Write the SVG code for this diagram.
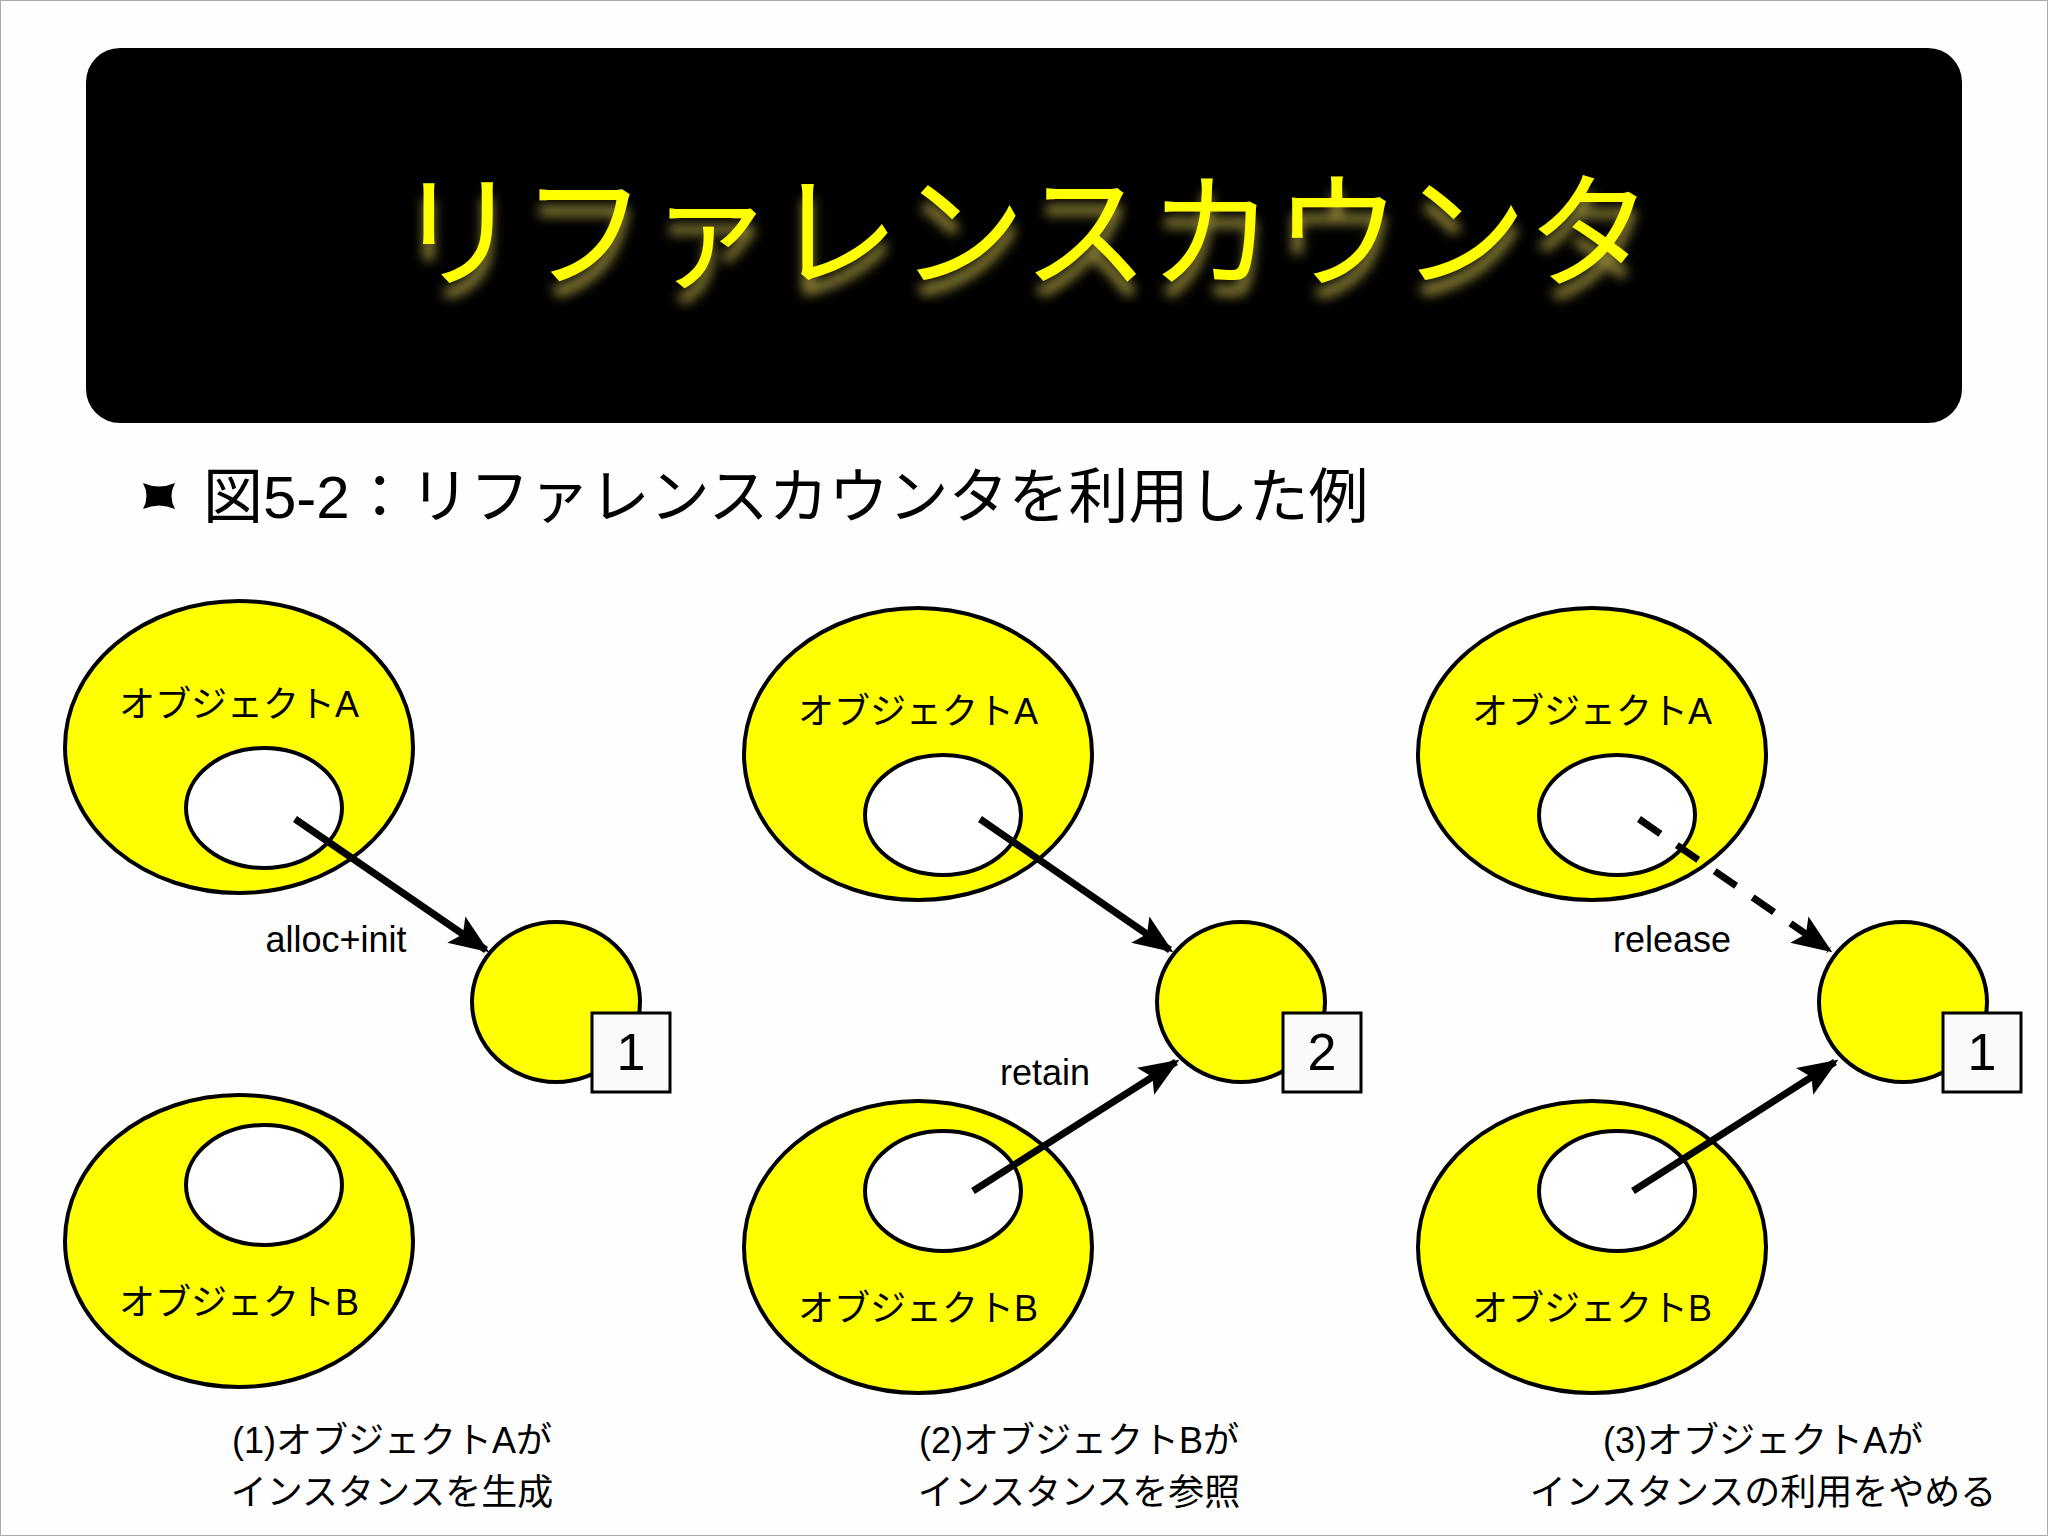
<svg xmlns="http://www.w3.org/2000/svg" width="2048" height="1536" viewBox="0 0 2048 1536">
<style>
.big{fill:#ffff00;stroke:#000;stroke-width:4}
.in{fill:#fff;stroke:#000;stroke-width:4}
.t{font-family:"Liberation Sans","Noto Sans CJK JP",sans-serif;fill:#000}
.lbl{font-size:36px;text-anchor:middle}
.cnt{fill:#fafafa;stroke:#000;stroke-width:3}
.ar{stroke:#000;stroke-width:7;fill:none;marker-end:url(#ah)}
</style>
<defs>
<marker id="ah" markerUnits="userSpaceOnUse" markerWidth="40" markerHeight="40" viewBox="0 0 40 40" refX="36" refY="20" orient="auto">
<path d="M0,4 L40,20 L0,36 L8,20 Z" fill="#000"/>
</marker>
<filter id="glow" x="-10%" y="-30%" width="120%" height="170%">
<feGaussianBlur in="SourceAlpha" stdDeviation="6"/>
<feOffset dy="16" result="b"/>
<feFlood flood-color="#a89c40" flood-opacity="0.85"/>
<feComposite in2="b" operator="in" result="s"/>
<feMerge><feMergeNode in="s"/><feMergeNode in="SourceGraphic"/></feMerge>
</filter>
</defs>
<rect x="0" y="0" width="2048" height="1536" fill="#fefefe" stroke="#aaa" stroke-width="2"/>
<g id="title">
<rect x="86" y="48" width="1876" height="375" rx="34" fill="#000"/>
<text x="1024" y="278" text-anchor="middle" font-size="126" font-family="'Noto Sans CJK JP',sans-serif" fill="#ffff00" filter="url(#glow)">リファレンスカウンタ</text>
</g>
<g id="subtitle">
<path d="M143,483 Q159,490 175,483 Q168,496 175,509 Q159,502 143,509 Q150,496 143,483 Z" fill="#000"/>
<text class="t" x="203" y="518" font-size="60" font-family="'Noto Sans CJK JP',sans-serif">図5-2：リファレンスカウンタを利用した例</text>
</g>
<g id="p1">
<g id="p1A"><ellipse class="big" cx="239" cy="747" rx="174" ry="146"/><ellipse class="in" cx="264" cy="808" rx="78" ry="60"/><text class="t lbl" x="239" y="717">オブジェクトA</text></g>
<g id="p1B"><ellipse class="big" cx="239" cy="1241" rx="174" ry="146"/><ellipse class="in" cx="264" cy="1185" rx="78" ry="60"/><text class="t lbl" x="239" y="1315">オブジェクトB</text></g>
<g id="p1I"><ellipse class="big" cx="556" cy="1002" rx="84" ry="80"/><rect class="cnt" x="592" y="1013" width="78" height="79"/><text class="t" x="631" y="1070" font-size="52" text-anchor="middle">1</text></g>
<text class="t" x="336" y="952" font-size="36" text-anchor="middle">alloc+init</text>
<text class="t lbl" x="392" y="1453">(1)オブジェクトAが</text>
<text class="t lbl" x="392" y="1505">インスタンスを生成</text>
</g>
<g id="p2">
<g id="p2A"><ellipse class="big" cx="918" cy="754" rx="174" ry="146"/><ellipse class="in" cx="943" cy="815" rx="78" ry="60"/><text class="t lbl" x="918" y="724">オブジェクトA</text></g>
<g id="p2B"><ellipse class="big" cx="918" cy="1247" rx="174" ry="146"/><ellipse class="in" cx="943" cy="1191" rx="78" ry="60"/><text class="t lbl" x="918" y="1321">オブジェクトB</text></g>
<g id="p2I"><ellipse class="big" cx="1241" cy="1002" rx="84" ry="80"/><rect class="cnt" x="1283" y="1013" width="78" height="79"/><text class="t" x="1322" y="1070" font-size="52" text-anchor="middle">2</text></g>
<text class="t" x="1045" y="1085" font-size="36" text-anchor="middle">retain</text>
<text class="t lbl" x="1079" y="1453">(2)オブジェクトBが</text>
<text class="t lbl" x="1079" y="1505">インスタンスを参照</text>
</g>
<g id="p3">
<g id="p3A"><ellipse class="big" cx="1592" cy="754" rx="174" ry="146"/><ellipse class="in" cx="1617" cy="815" rx="78" ry="60"/><text class="t lbl" x="1592" y="724">オブジェクトA</text></g>
<g id="p3B"><ellipse class="big" cx="1592" cy="1247" rx="174" ry="146"/><ellipse class="in" cx="1617" cy="1191" rx="78" ry="60"/><text class="t lbl" x="1592" y="1321">オブジェクトB</text></g>
<g id="p3I"><ellipse class="big" cx="1903" cy="1002" rx="84" ry="80"/><rect class="cnt" x="1943" y="1013" width="78" height="79"/><text class="t" x="1982" y="1070" font-size="52" text-anchor="middle">1</text></g>
<text class="t" x="1672" y="952" font-size="36" text-anchor="middle">release</text>
<text class="t lbl" x="1763" y="1453">(3)オブジェクトAが</text>
<text class="t lbl" x="1763" y="1505">インスタンスの利用をやめる</text>
</g>
<g id="connectors">
<line class="ar" x1="295" y1="819" x2="486" y2="950"/>
<line class="ar" x1="980" y1="819" x2="1170" y2="950"/>
<line class="ar" x1="973" y1="1191" x2="1176" y2="1062"/>
<line class="ar" x1="1639" y1="819" x2="1829" y2="950" stroke-dasharray="26,20"/>
<line class="ar" x1="1633" y1="1191" x2="1835" y2="1062"/>
</g>
</svg>
